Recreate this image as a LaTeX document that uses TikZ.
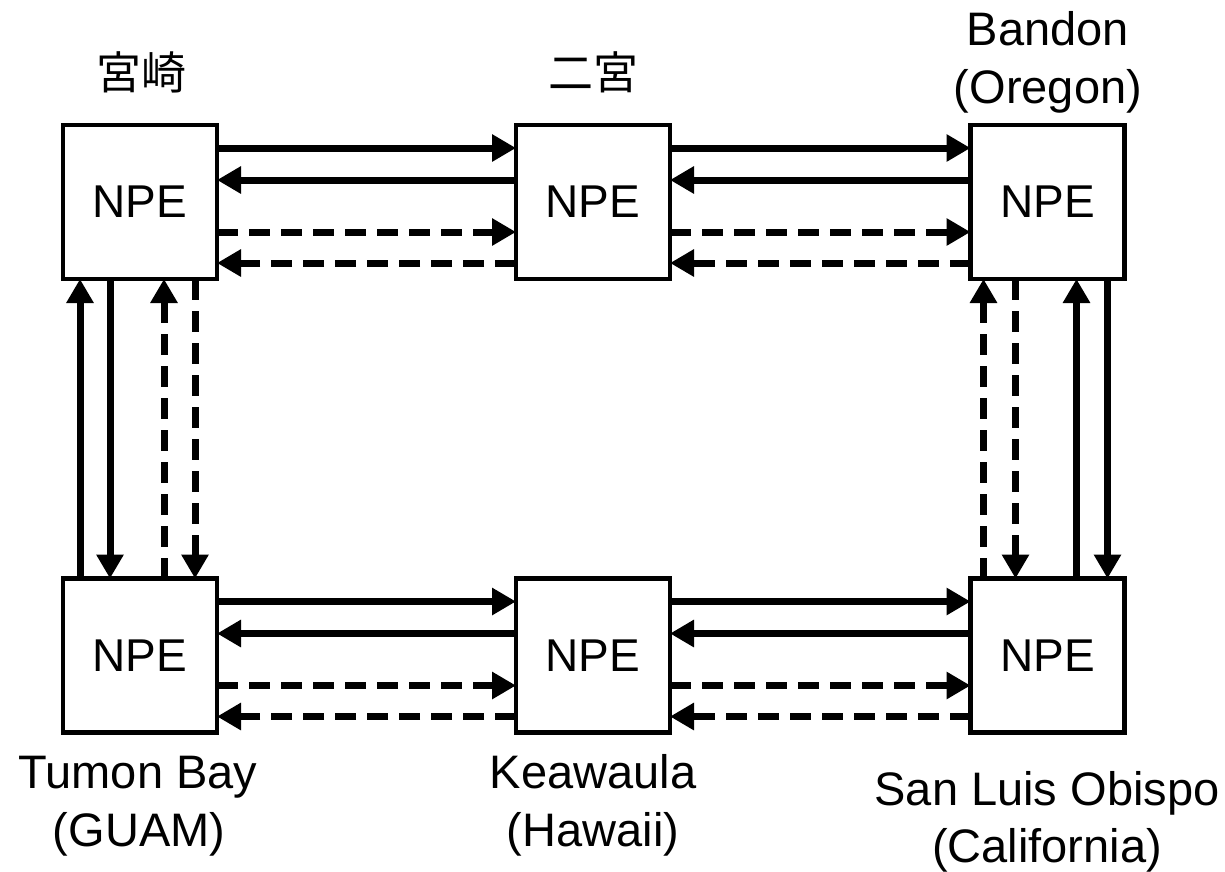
\documentclass[tikz,border=0pt]{standalone}
\usepackage{fontspec}
\setmainfont{Liberation Sans}
\newfontfamily\cjk{Noto Sans CJK JP}
\usetikzlibrary{arrows.meta}
\begin{document}
\begin{tikzpicture}[x=1pt,y=-1pt,
  npebox/.style={draw,line width=4.5pt,minimum width=154pt,minimum height=154pt,inner sep=0pt,outer sep=0pt,font=\fontsize{46}{50}\selectfont},
  lbl/.style={font=\fontsize{47}{56}\selectfont,inner sep=0pt,anchor=base},
  cjklbl/.style={font=\cjk\fontsize{45}{50}\selectfont,inner sep=0pt},
  link/.style={line width=7pt,-{Triangle[length=24pt,width=26pt]}},
  dlink/.style={link,dash pattern=on 21pt off 11pt}]
\useasboundingbox (0,0) rectangle (1225,871);
\node[npebox] (tl) at (140,202) {NPE};
\node[npebox] (tm) at (593,202) {NPE};
\node[npebox] (tr) at (1047.5,202) {NPE};
\node[npebox] (bl) at (140,655.5) {NPE};
\node[npebox] (bm) at (593,655.5) {NPE};
\node[npebox] (br) at (1047.5,655.5) {NPE};
% labels
\node[cjklbl] (l1) at (141,72) {宮崎};
\node[cjklbl] (l2) at (593,72) {二宮};
\node[lbl] (l3a) at (1048,45) {Bandon};
\node[lbl] (l3b) at (1048,103) {(Oregon)};
\node[lbl] (l4a) at (138,788) {Tumon Bay};
\node[lbl] (l4b) at (139,846) {(GUAM)};
\node[lbl] (l5a) at (593,788) {Keawaula};
\node[lbl] (l5b) at (593,846) {(Hawaii)};
\node[lbl] (l6a) at (1047,805) {San Luis Obispo};
\node[lbl] (l6b) at (1047,862) {(California)};
% horizontal links
\foreach \a/\b in {tl/tm,tm/tr,bl/bm,bm/br}{
  \draw[link] ([yshift=-23pt]\a.north east) -- ([yshift=-23pt]\b.north west);
  \draw[link] ([yshift=-55pt]\b.north west) -- ([yshift=-55pt]\a.north east);
  \draw[dlink] ([yshift=-107pt]\a.north east) -- ([yshift=-107pt]\b.north west);
  \draw[dlink] ([yshift=-138pt]\b.north west) -- ([yshift=-138pt]\a.north east);
}
% left vertical links
\draw[link] ([xshift=17pt]bl.north west) -- ([xshift=17pt]tl.south west);
\draw[link] ([xshift=47pt]tl.south west) -- ([xshift=47pt]bl.north west);
\draw[dlink] ([xshift=101pt]bl.north west) -- ([xshift=101pt]tl.south west);
\draw[dlink] ([xshift=132pt]tl.south west) -- ([xshift=132pt]bl.north west);
% right vertical links
\draw[dlink] ([xshift=13pt]br.north west) -- ([xshift=13pt]tr.south west);
\draw[dlink] ([xshift=45pt]tr.south west) -- ([xshift=45pt]br.north west);
\draw[link] ([xshift=106pt]br.north west) -- ([xshift=106pt]tr.south west);
\draw[link] ([xshift=137pt]tr.south west) -- ([xshift=137pt]br.north west);
\end{tikzpicture}
\end{document}
